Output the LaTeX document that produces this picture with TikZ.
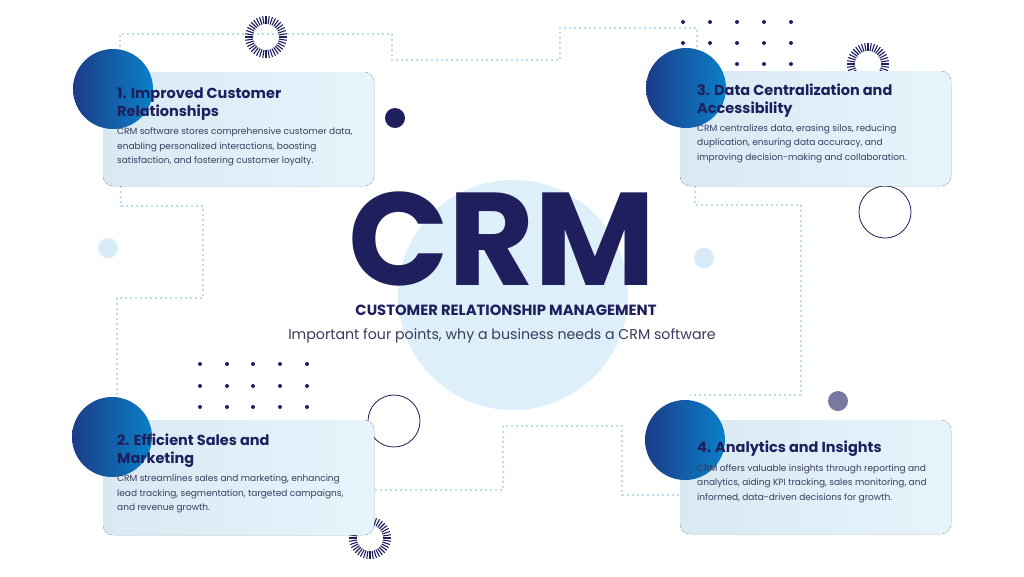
\documentclass[tikz,border=0pt]{standalone}
\usepackage{fontspec}
\setmainfont{Poppins}
\usetikzlibrary{positioning}
\definecolor{navy}{HTML}{1F1F5E}
\definecolor{bodytxt}{HTML}{3A3A5E}
\definecolor{dashblue}{HTML}{BCDAF0}
\definecolor{cardL}{HTML}{D8E9F3}
\definecolor{cardR}{HTML}{E6F5FC}
\definecolor{ballL}{HTML}{1C3C88}
\definecolor{ballR}{HTML}{0A80C8}
\definecolor{bigbg}{HTML}{DDEFF8}
\definecolor{dotblue}{HTML}{D6EAF8}
\definecolor{greyball}{HTML}{7A78A0}
\tikzset{
  card/.style={rounded corners=10pt, left color=cardL, right color=cardR, draw=none},
  ball/.style={left color=ballL, right color=ballR, draw=none},
  trail/.style={dashblue, line width=1.2pt, dash pattern=on 2pt off 3pt},
  title/.style={anchor=north west, inner sep=0pt, align=left, text=navy, font=\fontsize{14.5}{17.5}\selectfont\bfseries},
  body/.style={anchor=north west, inner sep=0pt, align=left, text=bodytxt, font=\fontsize{9}{14.5}\selectfont},
}
\newcommand{\burst}[1]{\foreach \a in {0,9,...,351} \draw[navy, line width=1.1pt] (#1)+(\a:13) -- +(\a:21);}
\begin{document}
\begin{tikzpicture}[x=1pt, y=-1pt]
	\useasboundingbox[fill=white] (0,0) rectangle (1024,576);
	% trails
	\draw[trail] (120,72) -- (120,34) -- (392,34) -- (392,60) -- (560,60) -- (560,28) -- (697,28) -- (697,71);
	\draw[trail] (121,186) -- (121,206) -- (203,206) -- (203,298) -- (117,298) -- (117,420);
	\draw[trail] (695,186) -- (695,205) -- (801,205) -- (801,395) -- (690,395);
	\draw[trail] (375,490) -- (503,490) -- (503,426) -- (622,426) -- (622,495) -- (680,495);
	% background
	\fill[bigbg] (513,295) circle (115);
	\fill[navy] (395,118) circle (10);
	\fill[dotblue] (108,248) circle (10);
	\fill[dotblue] (704,258) circle (10);
	\fill[greyball] (838,401) circle (10);
	\draw[navy, line width=0.8pt] (885,212) circle (26);
	\draw[navy, line width=0.8pt] (394,421) circle (26);
	\burst{266,37}
	\burst{868,64}
	\burst{370,538}
	\foreach \x in {683,710,737,764,791} \foreach \y in {22,43,64} \fill[navy] (\x,\y) circle (2);
	\foreach \x in {200,227,253,280,307} \foreach \y in {364,386,407} \fill[navy] (\x,\y) circle (2);
	% cards
	\fill[card] (103,72) rectangle (374,186);
	\fill[card] (103,420) rectangle (374,535);
	\fill[card] (680,71) rectangle (951,186);
	\fill[card] (680,420) rectangle (951,534);
	\shade[ball] (113,89) circle (40);
	\shade[ball] (112,437) circle (40);
	\shade[ball] (686,88) circle (40);
	\shade[ball] (685,440) circle (40);
	% texts
	\node[title] (t1) at (117,88) {1. Improved Customer\\Relationships};
	\node[body, below=7pt of t1.south west, anchor=north west] (b1) {CRM software stores comprehensive customer data,\\enabling personalized interactions, boosting\\satisfaction, and fostering customer loyalty.};
	\node[title] (t2) at (117,434) {2. Efficient Sales and\\Marketing};
	\node[body, below=7pt of t2.south west, anchor=north west] (b2) {CRM streamlines sales and marketing, enhancing\\lead tracking, segmentation, targeted campaigns,\\and revenue growth.};
	\node[title] (t3) at (697,84) {3. Data Centralization and\\Accessibility};
	\node[body, below=7pt of t3.south west, anchor=north west] (b3) {CRM centralizes data, erasing silos, reducing\\duplication, ensuring data accuracy, and\\improving decision-making and collaboration.};
	\node[title] (t4) at (697,441) {4. Analytics and Insights};
	\node[body, below=7pt of t4.south west, anchor=north west] (b4) {CRM offers valuable insights through reporting and\\analytics, aiding KPI tracking, sales monitoring, and\\informed, data-driven decisions for growth.};
	\node[text=navy, font=\fontsize{132}{132}\selectfont\bfseries, inner sep=0pt, anchor=base] (crm) at (502,285) {CRM};
	\node[text=navy, font=\fontsize{14.8}{17}\selectfont\bfseries, inner sep=0pt, anchor=base] (sub) at (506,315) {CUSTOMER RELATIONSHIP MANAGEMENT};
	\node[text=bodytxt, font=\fontsize{14.2}{17}\selectfont, inner sep=0pt, anchor=base] (tag) at (502,339) {Important four points, why a business needs a CRM software};
\end{tikzpicture}
\end{document}
